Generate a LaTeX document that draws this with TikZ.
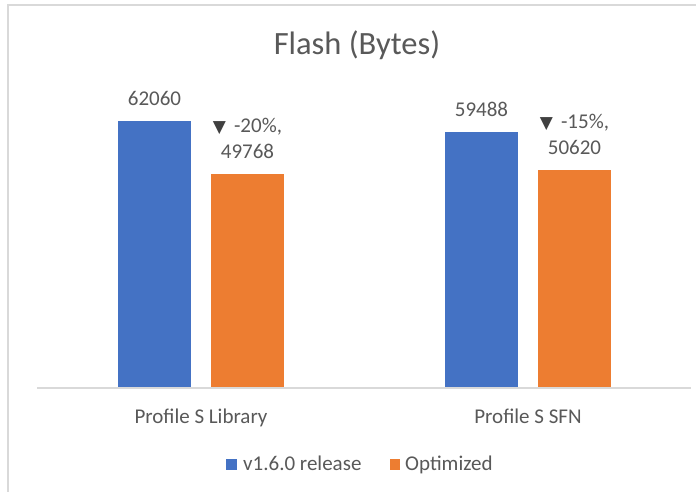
\documentclass[tikz,border=0pt]{standalone}
\usepackage{fontspec}
\setmainfont{Carlito}
\newfontfamily\symfont{DejaVu Sans}
\definecolor{seriesA}{HTML}{4472C4}
\definecolor{seriesB}{HTML}{ED7D31}
\definecolor{txtgray}{HTML}{595959}
\definecolor{markgray}{HTML}{404040}
\definecolor{framegray}{HTML}{D9D9D9}
\newcommand{\dropmark}{{\symfont\fontsize{17}{26}\selectfont\color{markgray}▼}\hspace*{8pt}}
\begin{document}
\begin{tikzpicture}[x=1pt,y=-1pt,
  bar/.style={draw=none, inner sep=0pt, minimum width=73pt, anchor=south},
  vlabel/.style={text=txtgray, inner sep=0pt, anchor=south, align=center,
    font=\fontsize{21}{26}\selectfont},
  catlabel/.style={text=txtgray, inner sep=0pt, anchor=base,
    font=\fontsize{21}{26}\selectfont},
  legsq/.style={inner sep=0pt, minimum width=10.5pt, minimum height=10.5pt, anchor=south west},
  legtxt/.style={text=txtgray, inner sep=0pt, anchor=base west,
    font=\fontsize{21}{26}\selectfont}]
\useasboundingbox (0,0) rectangle (696,492);
\fill[white] (0,0) rectangle (696,492);

% chart frame (top and left edges visible)
\draw[framegray, line width=2.5pt] (8,492) -- (8,5) -- (696,5);

% title
\node[text=txtgray, inner sep=0pt, anchor=base, font=\fontsize{32.5}{38}\selectfont]
  (title) at (357,55) {Flash (Bytes)};

% category axis
\coordinate (axL) at (37,388);
\coordinate (axR) at (691,388);

% bars (267pt corresponds to 62060 bytes)
\node[bar, fill=seriesA, minimum height=267.0pt] (libA) at (154.5,388) {};
\node[bar, fill=seriesB, minimum height=214.1pt] (libB) at (247.5,388) {};
\node[bar, fill=seriesA, minimum height=255.9pt] (sfnA) at (481.5,388) {};
\node[bar, fill=seriesB, minimum height=217.8pt] (sfnB) at (574.5,388) {};

\draw[framegray, line width=1.5pt] (axL) -- (axR);

% data labels
\node[vlabel] (libAlab) at ([yshift=15pt]libA.north) {62060};
\node[vlabel] (libBlab) at ([yshift=15pt]libB.north) {\dropmark-20\%,\\49768};
\node[vlabel] (sfnAlab) at ([yshift=15pt]sfnA.north) {59488};
\node[vlabel] (sfnBlab) at ([yshift=15pt]sfnB.north) {\dropmark-15\%,\\50620};

% category labels
\node[catlabel] (libcat) at (201,423) {Profile S Library};
\node[catlabel] (sfncat) at (528,423) {Profile S SFN};

% legend
\node[legsq, fill=seriesA] (legA) at (226,470) {};
\node[legtxt] (legAtxt) at (243,470) {v1.6.0 release};
\node[legsq, fill=seriesB] (legB) at (389.5,470) {};
\node[legtxt] (legBtxt) at (405,470) {Optimized};
\end{tikzpicture}
\end{document}
